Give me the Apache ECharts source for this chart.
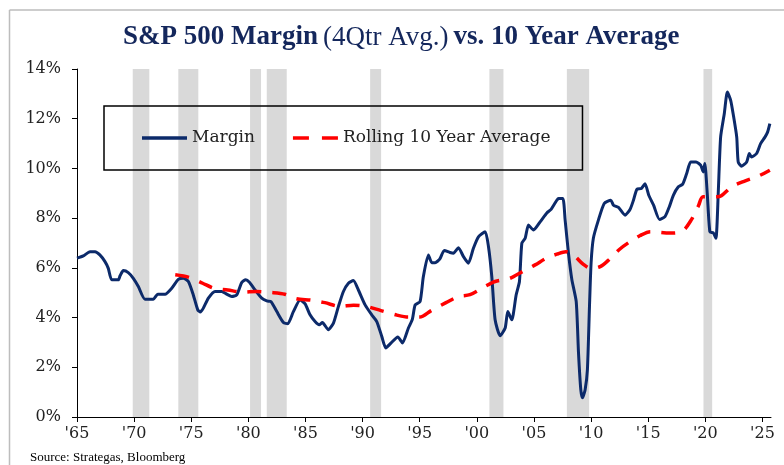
<!DOCTYPE html>
<html>
<head>
<meta charset="utf-8">
<script src="https://cdn.jsdelivr.net/npm/echarts@6/dist/echarts.min.js"></script>
<style>
html,body{margin:0;padding:0;background:#fff;}
#chart{width:784px;height:465px;}
</style>
</head>
<body>
<div id="chart"></div>
<script>
// ---- data ----
const marginYears = [1965.0,1965.55,1966.14,1966.58,1967.0,1967.45,1967.74,1968.04,1968.62,1968.77,1969.06,1969.49,1969.93,1970.37,1970.95,1971.68,1972.07,1972.71,1973.29,1973.87,1974.31,1974.75,1975.18,1975.57,1975.8,1976.06,1976.5,1977.08,1977.67,1978.11,1978.55,1978.98,1979.42,1979.77,1980.09,1980.59,1981.17,1981.61,1981.99,1982.49,1983.07,1983.45,1983.94,1984.53,1984.97,1985.4,1985.84,1986.2,1986.48,1987.0,1987.45,1987.88,1988.32,1988.76,1989.19,1989.63,1990.22,1990.8,1991.24,1991.68,1992.03,1992.5,1993.08,1993.49,1994.01,1994.36,1994.6,1995.03,1995.32,1995.76,1996.06,1996.35,1996.75,1997.15,1997.65,1997.95,1998.39,1998.83,1999.26,1999.7,2000.14,2000.73,2001.02,2001.31,2001.6,2002.04,2002.48,2002.71,2003.06,2003.44,2003.73,2003.94,2004.23,2004.52,2004.96,2005.54,2006.13,2006.5,2007.0,2007.15,2007.53,2007.73,2008.02,2008.32,2008.7,2008.9,2009.1,2009.25,2009.48,2009.68,2009.86,2010.0,2010.2,2010.64,2011.15,2011.73,2011.96,2012.4,2012.98,2013.42,2013.71,2014.01,2014.4,2014.72,2015.05,2015.47,2015.99,2016.47,2016.85,2017.2,2017.64,2018.02,2018.37,2018.72,2019.19,2019.59,2019.82,2019.96,2020.17,2020.4,2020.69,2020.93,2021.13,2021.34,2021.66,2021.93,2022.22,2022.46,2022.75,2022.88,2023.18,2023.62,2023.85,2024.05,2024.49,2024.84,2025.22,2025.45,2025.65];
const marginValues = [6.39,6.48,6.65,6.65,6.52,6.25,5.98,5.52,5.52,5.68,5.89,5.81,5.58,5.25,4.74,4.74,4.94,4.94,5.18,5.54,5.58,5.45,4.91,4.31,4.22,4.38,4.78,5.05,5.05,4.94,4.85,4.91,5.41,5.52,5.42,5.11,4.78,4.67,4.64,4.24,3.80,3.75,4.24,4.71,4.55,4.11,3.84,3.71,3.80,3.51,3.78,4.44,5.05,5.38,5.49,5.11,4.51,4.11,3.84,3.24,2.78,2.98,3.22,2.98,3.58,3.94,4.51,4.64,5.65,6.52,6.21,6.21,6.35,6.70,6.62,6.59,6.81,6.45,6.19,6.79,7.25,7.45,6.85,5.65,3.91,3.27,3.58,4.24,3.91,4.91,5.45,6.99,7.19,7.72,7.52,7.85,8.21,8.35,8.72,8.79,8.79,7.92,6.59,5.52,4.64,2.58,1.10,0.77,1.10,1.91,4.44,6.19,7.19,7.92,8.59,8.72,8.52,8.43,8.12,8.36,8.72,9.16,9.19,9.38,8.92,8.52,7.95,8.06,8.46,8.92,9.26,9.37,9.80,10.26,10.26,10.13,9.86,10.20,8.99,7.45,7.41,7.19,8.99,11.26,12.20,13.07,12.74,12.13,11.26,10.26,10.09,10.26,10.60,10.46,10.60,11.00,11.26,11.46,11.80];

const avgYears = [1973.6,1974.8,1976.0,1977.0,1978.2,1979.5,1980.7,1982.0,1983.2,1984.2,1985.5,1986.7,1988.0,1989.2,1990.4,1991.6,1993.0,1994.0,1995.0,1996.0,1997.3,1998.4,1999.4,2000.7,2001.6,2002.9,2004.0,2005.1,2006.1,2007.0,2007.8,2008.5,2009.3,2010.0,2010.8,2011.5,2012.5,2013.4,2014.3,2015.2,2016.9,2018.0,2018.8,2019.4,2019.8,2021.0,2021.4,2022.3,2023.5,2024.6,2025.65];
const avgValues = [5.72,5.62,5.38,5.18,5.11,5.02,5.05,5.01,4.94,4.76,4.70,4.60,4.45,4.50,4.44,4.28,4.10,4.02,4.02,4.28,4.60,4.85,4.92,5.25,5.45,5.58,5.85,6.12,6.39,6.55,6.65,6.50,6.15,5.97,6.05,6.30,6.75,7.05,7.30,7.45,7.40,7.48,7.95,8.50,8.86,8.86,8.90,9.26,9.50,9.68,9.93];

const recessionStarts = [1969.88,1973.87,1980.15,1981.61,1990.66,2001.10,2007.88,2019.84];
const recessionEnds   = [1971.33,1975.62,1981.11,1983.36,1991.62,2002.33,2009.83,2020.60];

const xTickYears = [1965,1970,1975,1980,1985,1990,1995,2000,2005,2010,2015,2020,2025];
const yTicks = [0,2,4,6,8,10,12,14];

const seriesNames = ['Margin','Rolling 10 Year Average'];
const titleParts = ['S&P 500 Margin','(4Qtr Avg.)','vs. 10 Year Average'];
const sourceText = 'Source: Strategas, Bloomberg';

// ---- build ----
const zip = (xs, ys) => xs.map((x, i) => [x, ys[i]]);
const recessionAreas = recessionStarts.map((s, i) => [{xAxis: s}, {xAxis: recessionEnds[i]}]);

const chart = echarts.init(document.getElementById('chart'), null, {renderer: 'canvas'});
const serif = '"DejaVu Serif", "Liberation Serif", serif';
const navy = '#0c2a6a';
const red = '#ff0000';

chart.setOption({
  backgroundColor: '#fff',
  animation: false,
  title: {
    text: '{b|' + titleParts[0] + '} {n|' + titleParts[1] + '} {b|' + titleParts[2] + '}',
    left: 118,
    top: 19,
    textStyle: {
      rich: {
        b: {fontFamily: '"Liberation Serif", serif', fontWeight: 'bold', fontSize: 27, color: '#14275c'},
        n: {fontFamily: '"Liberation Serif", serif', fontWeight: 'normal', fontSize: 27, color: '#14275c'}
      }
    }
  },
  legend: {
    left: 104,
    top: 106,
    orient: 'horizontal',
    padding: [22, 32, 22, 38],
    borderColor: '#000',
    borderWidth: 1.5,
    itemWidth: 45,
    itemHeight: 3.5,
    itemGap: 38,
    symbolKeepAspect: false,
    textStyle: {fontFamily: serif, fontSize: 17, color: '#222', lineHeight: 20},
    data: [
      {name: seriesNames[0], icon: 'path://M0,0H45V3.5H0Z', itemStyle: {color: navy}},
      {name: seriesNames[1], icon: 'path://M0,0H16V3.5H0Z M29,0H45V3.5H29Z', itemStyle: {color: red}}
    ]
  },
  grid: {left: 77, right: 13, top: 69, bottom: 48, containLabel: false},
  xAxis: {
    type: 'value',
    min: 1965,
    max: 2025.75,
    interval: 5,
    splitLine: {show: false},
    axisLine: {show: true, onZero: false, lineStyle: {color: '#000', width: 1}},
    axisTick: {show: true, length: 5, inside: false, lineStyle: {color: '#000'}, customValues: xTickYears},
    axisLabel: {
      customValues: xTickYears,
      margin: 9,
      fontFamily: serif, fontSize: 16, color: '#222',
      formatter: v => "'" + String(Math.round(v)).slice(2)
    }
  },
  yAxis: {
    type: 'value',
    min: 0,
    max: 14,
    interval: 2,
    splitLine: {show: false},
    axisLine: {show: true, lineStyle: {color: '#000', width: 1}},
    axisTick: {show: true, length: 5, lineStyle: {color: '#000'}},
    axisLabel: {
      customValues: yTicks,
      margin: 16,
      fontFamily: serif, fontSize: 16, color: '#222',
      formatter: v => v + '%'
    }
  },
  series: [
    {
      name: seriesNames[0],
      type: 'line',
      data: zip(marginYears, marginValues),
      symbol: 'none',
      smooth: 0.2,
      lineStyle: {color: navy, width: 3},
      itemStyle: {color: navy},
      z: 3,
      markArea: {
        silent: true,
        itemStyle: {color: '#d9d9d9'},
        data: recessionAreas,
        z: 1
      }
    },
    {
      name: seriesNames[1],
      type: 'line',
      data: zip(avgYears, avgValues),
      symbol: 'none',
      smooth: 0.3,
      lineStyle: {color: red, width: 3.5, type: [14, 11]},
      itemStyle: {color: red},
      z: 4
    }
  ],
  graphic: [
    {type: 'line', shape: {x1: 9.5, y1: 10, x2: 784, y2: 10}, style: {stroke: '#bdbdbd', lineWidth: 1.5}, silent: true},
    {type: 'line', shape: {x1: 9.5, y1: 10, x2: 9.5, y2: 465}, style: {stroke: '#bdbdbd', lineWidth: 1.5}, silent: true},
    {type: 'text', left: 30, top: 451, style: {text: sourceText, font: '13px "Liberation Serif", serif', fill: '#000'}, silent: true}
  ]
});
</script>
</body>
</html>
